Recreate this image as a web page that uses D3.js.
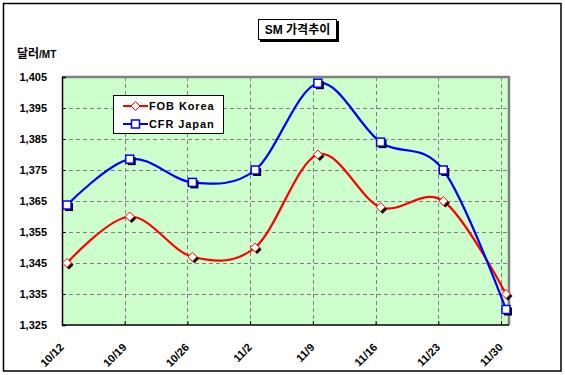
<!DOCTYPE html>
<html><head><meta charset="utf-8">
<script src="https://cdn.jsdelivr.net/npm/d3@7/dist/d3.min.js"></script>
<style>body{margin:0;background:#fff}svg{display:block}</style>
</head><body>
<svg id="c" width="565" height="375"></svg>
<script>
const categories = ["10/12","10/19","10/26","11/2","11/9","11/16","11/23","11/30"];
const fobKorea = [1345,1360,1347,1350,1380,1363,1365,1335];
const cfrJapan = [1363.7,1378.5,1371,1375,1403,1384,1375,1330];
const yTicks = [1325,1335,1345,1355,1365,1375,1385,1395,1405];
const seriesNames = ["FOB Korea","CFR Japan"];
const titleText = "SM 가격추이";

const svg = d3.select("#c");
const font = "'Liberation Sans', Arial, 'Noto Sans CJK KR', sans-serif";
const L = 62, R = 509, T = 77, B = 325;

// outer border
svg.append("rect").attr("x",3.5).attr("y",3.5).attr("width",557.5).attr("height",367.5)
  .attr("fill","#fff").attr("stroke","#000").attr("stroke-width",1.5);

const x = d3.scalePoint().domain(categories).range([67,506]);
const gx = d3.scalePoint().domain(categories).range([L,501]);
const y = d3.scaleLinear().domain([1325,1405]).range([B,T]);

svg.append("rect").attr("x",L).attr("y",T).attr("width",R-L).attr("height",B-T).attr("fill","#CCFFCC");

// grid
const g = svg.append("g");
g.selectAll(".hg").data(yTicks.slice(1,-1)).join("line")
  .attr("x1",L).attr("x2",R).attr("y1",d=>Math.round(y(d))+0.5).attr("y2",d=>Math.round(y(d))+0.5)
  .attr("stroke","#808080").attr("stroke-dasharray","4,3");
g.selectAll(".vg").data(categories.slice(1)).join("line")
  .attr("x1",d=>Math.round(gx(d))+0.5).attr("x2",d=>Math.round(gx(d))+0.5).attr("y1",T).attr("y2",B)
  .attr("stroke","#808080").attr("stroke-dasharray","4,3");

// plot border top/right gray
svg.append("path").attr("d",`M${L},${T} H${R} V${B}`).attr("fill","none").attr("stroke","#808080").attr("stroke-width",2.5);

// axes
const yAxis = d3.axisLeft(y).tickValues(yTicks).tickSize(-4).tickFormat(d3.format(","));
const ya = svg.append("g").attr("transform",`translate(${L},0)`).call(yAxis);
ya.select(".domain").attr("stroke","#000").attr("stroke-width",1.5);
ya.selectAll(".tick line").attr("stroke","#000");
ya.selectAll(".tick text").attr("x",-15).attr("font-family",font).attr("font-weight","bold").attr("font-size",11).attr("fill","#000");

const xAxis = d3.axisBottom(gx).tickSize(-4);
const xa = svg.append("g").attr("transform",`translate(0,${B})`).call(xAxis);
xa.select(".domain").attr("d",`M${L},0H${R}`).attr("stroke","#000").attr("stroke-width",1.5);
xa.selectAll(".tick line").attr("stroke","#000");
xa.selectAll(".tick text").attr("font-family",font).attr("font-weight","bold").attr("font-size",11).attr("fill","#000")
  .attr("text-anchor","end").attr("dy",0).attr("y",0)
  .attr("transform","translate(2,23) rotate(-45)");

// lines
const line = d3.line().x((d,i)=>x(categories[i])).y(d=>y(d)).curve(d3.curveCatmullRom.alpha(0));
svg.append("path").datum(fobKorea).attr("d",line).attr("fill","none").attr("stroke","#FF0000").attr("stroke-width",2.2);
svg.append("path").datum(cfrJapan).attr("d",line).attr("fill","none").attr("stroke","#0000FF").attr("stroke-width",2.2);

const diamond = (cx,cy,r)=>`M${cx},${cy-r}L${cx+r},${cy}L${cx},${cy+r}L${cx-r},${cy}Z`;
// FOB markers
const fm = svg.append("g");
fobKorea.forEach((v,i)=>{
  const cx = x(categories[i]), cy = y(v);
  fm.append("path").attr("d",diamond(cx+2,cy+2,4.5)).attr("fill","#000");
  fm.append("path").attr("d",diamond(cx,cy,4.5)).attr("fill","#fff").attr("stroke","#FF0000").attr("stroke-width",1);
});
const cm = svg.append("g");
cfrJapan.forEach((v,i)=>{
  const cx = x(categories[i]), cy = y(v);
  cm.append("rect").attr("x",cx-4+2).attr("y",cy-4+2).attr("width",8).attr("height",8).attr("fill","#000");
  cm.append("rect").attr("x",cx-4).attr("y",cy-4).attr("width",8).attr("height",8).attr("fill","#fff").attr("stroke","#0000FF").attr("stroke-width",1.5);
});

// legend
const lg = svg.append("g");
lg.append("rect").attr("x",113.5).attr("y",95.5).attr("width",110).attr("height",38).attr("fill","#fff").attr("stroke","#000");
seriesNames.forEach((n,i)=>{
  const yy = 106 + i*18;
  const col = i===0 ? "#FF0000" : "#0000FF";
  lg.append("line").attr("x1",123).attr("x2",148).attr("y1",yy).attr("y2",yy).attr("stroke",col).attr("stroke-width",2);
  if(i===0) lg.append("path").attr("d",diamond(135.5,yy,4.5)).attr("fill","#fff").attr("stroke",col);
  else lg.append("rect").attr("x",131.5).attr("y",yy-4).attr("width",8).attr("height",8).attr("fill","#fff").attr("stroke",col).attr("stroke-width",1.5);
  lg.append("text").attr("x",149).attr("y",yy).attr("dy","0.36em").text(n)
    .attr("font-family",font).attr("font-weight","bold").attr("font-size",11).attr("letter-spacing",0.9).attr("fill","#000");
});

// title
svg.append("rect").attr("x",260).attr("y",21).attr("width",79).attr("height",21).attr("fill","#000");
svg.append("rect").attr("x",258.5).attr("y",19.5).attr("width",78).attr("height",20).attr("fill","#fff").attr("stroke","#000");
svg.append("text").attr("x",297.5).attr("y",30).attr("dy","0.36em").attr("text-anchor","middle").text(titleText)
  .attr("font-family",font).attr("font-weight","bold").attr("font-size",12).attr("fill","#000");

// unit label
const u = svg.append("text").attr("x",17).attr("y",58).attr("font-family",font).attr("font-weight","bold").attr("fill","#000");
u.append("tspan").text("달러").attr("font-size",12);
u.append("tspan").text("/MT").attr("font-size",10);
</script>
</body></html>
